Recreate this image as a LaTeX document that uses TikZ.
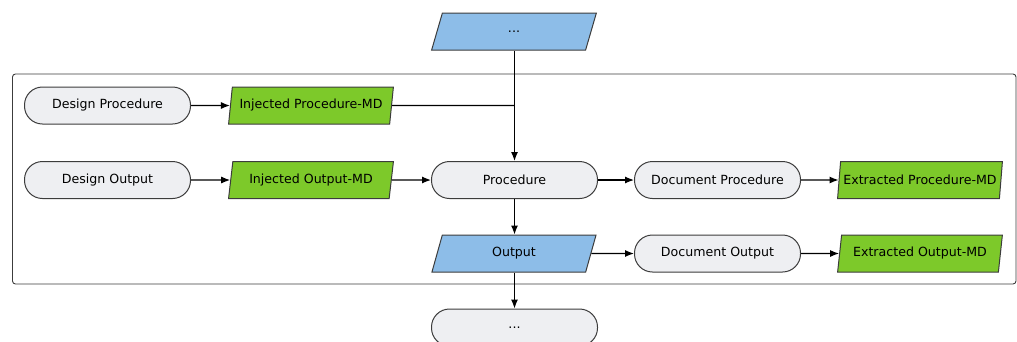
\documentclass[tikz,border=0pt]{standalone}
\usepackage{fontspec}
\setmainfont{DejaVu Sans}
\usetikzlibrary{shapes.geometric,arrows.meta}
\definecolor{termfill}{HTML}{EEEFF2}
\definecolor{datablue}{HTML}{8DBDE8}
\definecolor{mdgreen}{HTML}{7DC92A}
\definecolor{edge}{HTML}{3C3C3C}
\tikzset{
  base/.style={draw=edge, line width=1pt, minimum height=37pt, inner sep=2pt,
    font=\fontsize{12.6}{15}\selectfont, text=black},
  terminal/.style={base, fill=termfill, rounded corners=18pt, minimum width=166pt},
  data/.style={base, trapezium, trapezium left angle=77.8, trapezium right angle=102.2,
    trapezium stretches=true, minimum width=165pt},
  bluedata/.style={data, fill=datablue},
  greendata/.style={data, fill=mdgreen},
  flow/.style={draw=black, line width=1.2pt, -{Latex[length=9pt,width=7pt]}},
  plain/.style={draw=black, line width=1.2pt},
  frame/.style={draw=edge, line width=0.9pt, rounded corners=3pt}
}
\begin{document}
\begin{tikzpicture}[x=1pt,y=-1pt]
\useasboundingbox (0,0) rectangle (1017,341);

% enclosing group
\draw[frame] (12.5,74) rectangle (1016,284);

% nodes
\node[bluedata]  (top)   at (514,31.5)  {...};
\node[terminal]  (dproc) at (107.5,105.5) {Design Procedure};
\node[greendata] (iproc) at (311,105.5) {Injected Procedure-MD};
\node[terminal]  (dout)  at (107.5,180) {Design Output};
\node[greendata] (iout)  at (311,180)   {Injected Output-MD};
\node[terminal]  (proc)  at (514.5,180) {Procedure};
\node[terminal]  (docp)  at (717.5,180) {Document Procedure};
\node[greendata] (eproc) at (920,180)   {Extracted Procedure-MD};
\node[bluedata]  (out)   at (514,253.5) {Output};
\node[terminal]  (doco)  at (717.5,253.5) {Document Output};
\node[greendata] (eout)  at (920,253.5) {Extracted Output-MD};
\node[terminal]  (next)  at (514.5,327.5) {...};

% junction where the injected procedure joins the main line
\coordinate (join) at (514.5,105.5);

% connectors
\draw[flow] (dproc) -- (iproc);
\draw[plain] (iproc.east) -- (join);
\draw[flow] (top.south -| join) -- (proc.north);
\draw[flow] (dout) -- (iout);
\draw[flow] (iout) -- (proc);
\draw[flow] (proc) -- (docp);
\draw[flow] (docp) -- (eproc);
\draw[flow] (proc) -- (proc |- out.north);
\draw[flow] (out) -- (doco);
\draw[flow] (doco) -- (eout);
\draw[flow] (out.south -| proc) -- (next.north);
\end{tikzpicture}
\end{document}
